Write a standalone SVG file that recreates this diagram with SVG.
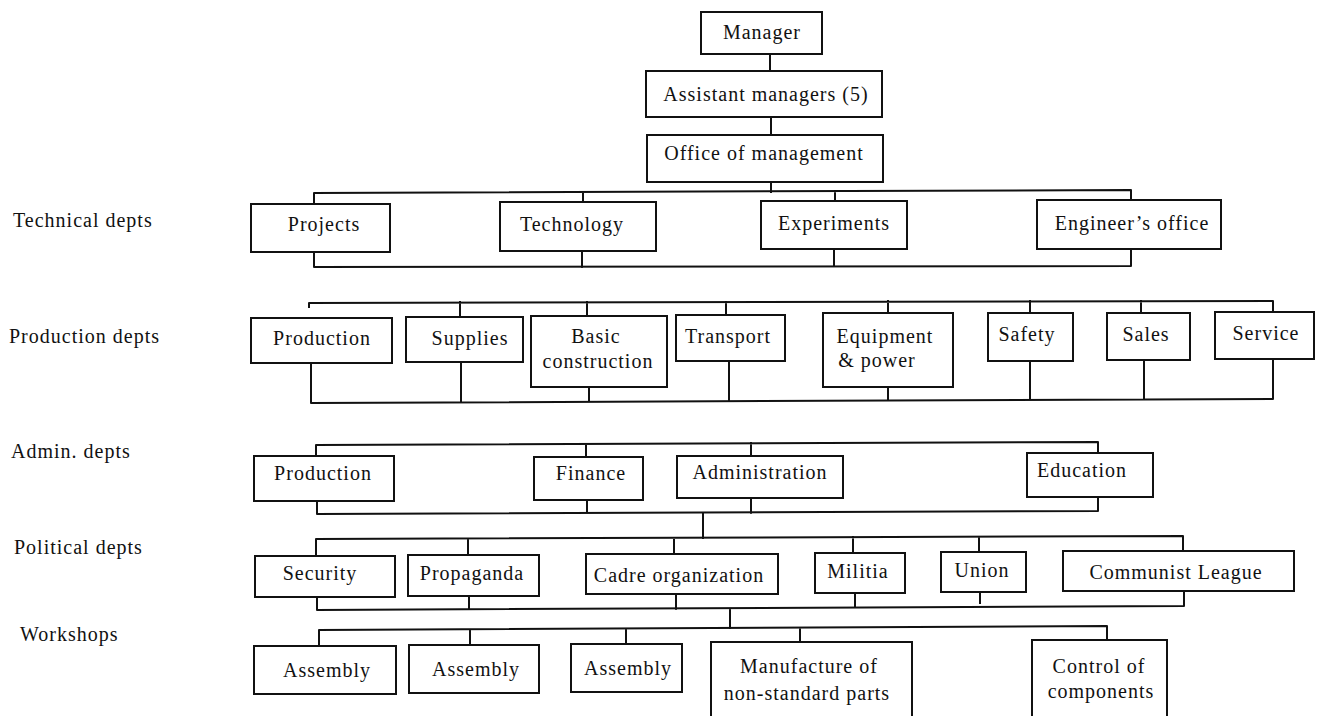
<svg xmlns="http://www.w3.org/2000/svg" width="1325" height="716" viewBox="0 0 1325 716">
<style>
.box{fill:#fff;stroke:#111;stroke-width:2}
.conn{fill:none;stroke:#111;stroke-width:2;stroke-linejoin:round;stroke-linecap:square}
text{font-family:"Liberation Serif",serif;font-size:20px;letter-spacing:1px;fill:#111}
.c{text-anchor:middle}
</style>
<rect width="1325" height="716" fill="#fff"/>
<g id="labels">
<text x="13" y="227">Technical depts</text>
<text x="9" y="343">Production depts</text>
<text x="11" y="458">Admin. depts</text>
<text x="14" y="554">Political depts</text>
<text x="20" y="641">Workshops</text>
</g>
<g id="connectors">
<path class="conn" d="M770,54 V71 M771,117 V135 M771,182 V192"/>
<path class="conn" d="M314,204 V193 L1131,190 V200 M583,192 V202 M835,191 V201"/>
<path class="conn" d="M314,252 V267 L1131,266 V249 M582,251 V267 M834,249 V266"/>
<path class="conn" d="M309,307 V303 L1273,301 V312 M460,302 V317 M587,302 V316 M726,302 V315 M888,301 V313 M1030,301 V313 M1141,301 V313"/>
<path class="conn" d="M311,363 V403 L1273,399 V359 M461,362 V402 M589,387 V402 M729,361 V401 M888,387 V400 M1030,361 V400 M1144,360 V399"/>
<path class="conn" d="M316,456 V445 L1098,442 V453 M586,444 V457 M751,443 V456"/>
<path class="conn" d="M317,501 V514 L1098,511 V497 M587,500 V513 M751,498 V513 M703,513 V538"/>
<path class="conn" d="M316,556 V539 L1183,536 V551 M468,539 V555 M674,538 V554 M853,537 V553 M979,537 V552"/>
<path class="conn" d="M317,597 V610 L1184,606 V591 M469,596 V609 M676,594 V609 M855,593 V607 M980,592 V603 M730,609 V628"/>
<path class="conn" d="M319,646 V630 L1107,626 V640 M470,630 V645 M626,629 V644 M800,628 V642"/>
</g>
<g id="n-manager"><rect class="box" x="701" y="12" width="121" height="42"/><text class="c" x="762" y="39">Manager</text></g>
<g id="n-assistant"><rect class="box" x="646" y="71" width="236" height="46"/><text class="c" x="766" y="101">Assistant managers (5)</text></g>
<g id="n-office"><rect class="box" x="647" y="135" width="236" height="47"/><text class="c" x="764" y="160">Office of management</text></g>

<g id="n-projects"><rect class="box" x="251" y="204" width="139" height="48"/><text class="c" x="324" y="231">Projects</text></g>
<g id="n-technology"><rect class="box" x="500" y="202" width="156" height="49"/><text class="c" x="572" y="231">Technology</text></g>
<g id="n-experiments"><rect class="box" x="761" y="201" width="146" height="48"/><text class="c" x="834" y="230">Experiments</text></g>
<g id="n-engineer"><rect class="box" x="1037" y="200" width="184" height="49"/><text class="c" x="1132" y="230">Engineer’s office</text></g>

<g id="n-production"><rect class="box" x="251" y="318" width="141" height="45"/><text class="c" x="322" y="345">Production</text></g>
<g id="n-supplies"><rect class="box" x="406" y="317" width="117" height="45"/><text class="c" x="470" y="345">Supplies</text></g>
<g id="n-basic"><rect class="box" x="531" y="316" width="136" height="71"/><text class="c" x="596" y="343">Basic</text><text class="c" x="598" y="368">construction</text></g>
<g id="n-transport"><rect class="box" x="676" y="315" width="109" height="46"/><text class="c" x="728" y="343">Transport</text></g>
<g id="n-equipment"><rect class="box" x="823" y="313" width="130" height="74"/><text class="c" x="885" y="343">Equipment</text><text class="c" x="877" y="367">&amp; power</text></g>
<g id="n-safety"><rect class="box" x="988" y="313" width="85" height="48"/><text class="c" x="1027" y="341">Safety</text></g>
<g id="n-sales"><rect class="box" x="1107" y="313" width="83" height="47"/><text class="c" x="1146" y="341">Sales</text></g>
<g id="n-service"><rect class="box" x="1215" y="312" width="99" height="47"/><text class="c" x="1266" y="340">Service</text></g>

<g id="n-admin-production"><rect class="box" x="254" y="456" width="140" height="45"/><text class="c" x="323" y="480">Production</text></g>
<g id="n-finance"><rect class="box" x="534" y="457" width="109" height="43"/><text class="c" x="591" y="480">Finance</text></g>
<g id="n-administration"><rect class="box" x="677" y="456" width="166" height="42"/><text class="c" x="760" y="479">Administration</text></g>
<g id="n-education"><rect class="box" x="1027" y="453" width="126" height="44"/><text class="c" x="1082" y="477">Education</text></g>

<g id="n-security"><rect class="box" x="255" y="556" width="140" height="41"/><text class="c" x="320" y="580">Security</text></g>
<g id="n-propaganda"><rect class="box" x="408" y="555" width="131" height="41"/><text class="c" x="472" y="580">Propaganda</text></g>
<g id="n-cadre"><rect class="box" x="586" y="554" width="192" height="40"/><text class="c" x="679" y="582">Cadre organization</text></g>
<g id="n-militia"><rect class="box" x="815" y="553" width="90" height="40"/><text class="c" x="858" y="578">Militia</text></g>
<g id="n-union"><rect class="box" x="941" y="552" width="85" height="40"/><text class="c" x="982" y="577">Union</text></g>
<g id="n-communist"><rect class="box" x="1063" y="551" width="231" height="40"/><text class="c" x="1176" y="579">Communist League</text></g>

<g id="n-assembly1"><rect class="box" x="254" y="646" width="142" height="48"/><text class="c" x="327" y="677">Assembly</text></g>
<g id="n-assembly2"><rect class="box" x="409" y="645" width="130" height="48"/><text class="c" x="476" y="676">Assembly</text></g>
<g id="n-assembly3"><rect class="box" x="571" y="644" width="111" height="48"/><text class="c" x="628" y="675">Assembly</text></g>
<g id="n-manufacture"><path class="box" d="M711,717 V642 H912 V717"/><text class="c" x="809" y="673">Manufacture of</text><text class="c" x="807" y="700">non-standard parts</text></g>
<g id="n-control"><path class="box" d="M1032,717 V640 H1167 V717"/><text class="c" x="1099" y="673">Control of</text><text class="c" x="1101" y="698">components</text></g>
</svg>
